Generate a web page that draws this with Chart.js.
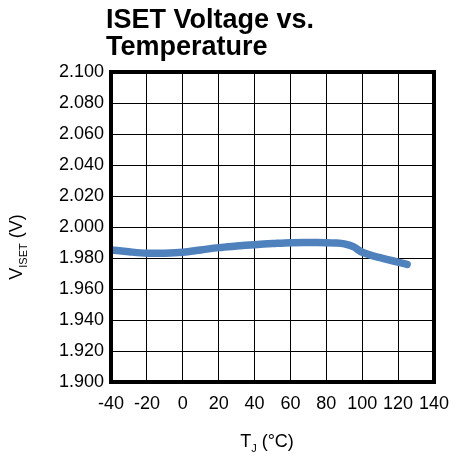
<!DOCTYPE html>
<html>
<head>
<meta charset="utf-8">
<script src="https://cdn.jsdelivr.net/npm/chart.js@4"></script>
<style>
  html, body { margin: 0; padding: 0; background: #fff; }
  #wrap { width: 454px; height: 460px; }
</style>
</head>
<body>
<div id="wrap"><canvas id="iset"></canvas></div>
<script>
const temps = [-40, -30, -20, -10, 0, 10, 20, 30, 40, 50, 60, 70, 80, 85, 90, 95, 100, 110, 125];
const vIset = [1.9852, 1.9840, 1.9831, 1.9831, 1.9837, 1.9852, 1.9867, 1.9877, 1.9886, 1.9893, 1.9899, 1.9900, 1.9899, 1.9897, 1.9891, 1.9873, 1.9837, 1.9802, 1.9759];
const titleLines = ['ISET Voltage vs.', 'Temperature'];

const FONT = "'Liberation Sans', Arial, sans-serif";

// frame, title and axis titles with subscripts
const extras = {
  id: 'extras',
  afterDraw(chart) {
    const c = chart.ctx, a = chart.chartArea;
    c.save();
    c.strokeStyle = '#000';
    c.lineWidth = 4;
    c.strokeRect(a.left, a.top, a.right - a.left, a.bottom - a.top);

    c.fillStyle = '#000';
    c.textBaseline = 'alphabetic';
    c.textAlign = 'left';
    c.font = 'bold 27px ' + FONT;
    c.fillText(titleLines[0], 106, 28);
    c.fillText(titleLines[1], 106, 55);

    // x title: T_J (°C)
    const big = '18px ' + FONT, small = '11px ' + FONT;
    c.font = big; const wT = c.measureText('T').width, wRest = c.measureText(' (°C)').width;
    c.font = small; const wJ = c.measureText('J').width;
    let x = 267 - (wT + wJ + wRest) / 2;
    c.font = big; c.fillText('T', x, 447); x += wT;
    c.font = small; c.fillText('J', x, 452); x += wJ;
    c.font = big; c.fillText(' (°C)', x, 447);

    // y title: V_ISET (V)
    c.translate(22, 247);
    c.rotate(-Math.PI / 2);
    c.font = big; const wV = c.measureText('V').width, wU = c.measureText(' (V)').width;
    c.font = small; const wS = c.measureText('ISET').width;
    x = -(wV + wS + wU) / 2;
    c.font = big; c.fillText('V', x, 0); x += wV;
    c.font = small; c.fillText('ISET', x, 5); x += wS;
    c.font = big; c.fillText(' (V)', x, 0);
    c.restore();
  }
};

new Chart(document.getElementById('iset'), {
  type: 'line',
  data: {
    datasets: [{
      data: temps.map((t, i) => ({ x: t, y: vIset[i] })),
      borderColor: '#4f81bd',
      borderWidth: 7.5,
      borderCapStyle: 'round',
      pointRadius: 0,
      tension: 0.35,
      fill: false
    }]
  },
  options: {
    responsive: true,
    maintainAspectRatio: false,
    animation: false,
    layout: { padding: { top: 72, right: 20, left: 0, bottom: 0 } },
    plugins: { legend: { display: false }, tooltip: { enabled: false } },
    scales: {
      x: {
        type: 'linear', min: -40, max: 140,
        afterFit: s => { s.height = 78; s.paddingLeft = 0; s.paddingRight = 0; },
        ticks: { stepSize: 20, color: '#000', font: { family: FONT, size: 18 }, padding: 11, maxRotation: 0, autoSkip: false },
        grid: { color: '#000', lineWidth: 1, drawTicks: false },
        border: { display: false }
      },
      y: {
        min: 1.9, max: 2.1,
        afterFit: s => { s.width = 111; s.paddingTop = 0; s.paddingBottom = 0; },
        ticks: { stepSize: 0.02, color: '#000', font: { family: FONT, size: 18 }, padding: 7,
          callback: v => v.toFixed(3) },
        grid: { color: '#000', lineWidth: 1, drawTicks: false },
        border: { display: false }
      }
    }
  },
  plugins: [extras]
});
</script>
</body>
</html>
